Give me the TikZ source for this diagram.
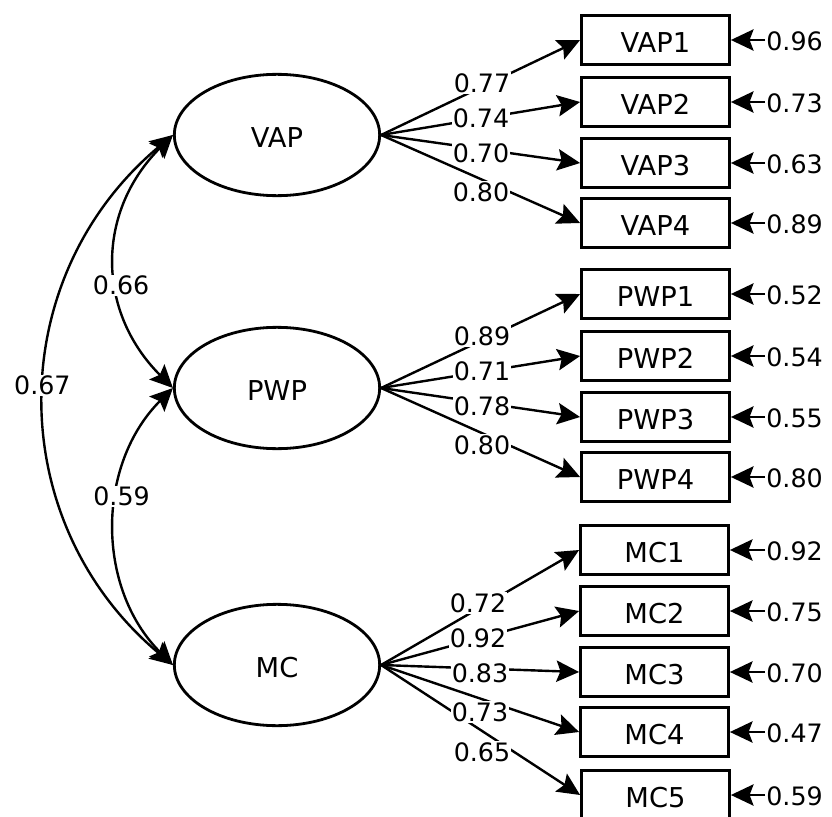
\documentclass[tikz,border=0pt]{standalone}
\usepackage{fontspec}
\setmainfont{DejaVu Sans}
\usetikzlibrary{shapes.geometric,arrows.meta}

\tikzset{
  semhead/.tip={Stealth[length=17pt,width=16pt,inset=3pt]},
}

\begin{document}
\begin{tikzpicture}[x=0.75pt,y=-0.75pt,
  every node/.style={font=\fontsize{19}{23}\selectfont},
  namefont/.style={font=\fontsize{20.5}{24}\selectfont, text height=19pt, text depth=0pt},
  latent/.style={draw, ellipse, namefont, line width=2.1pt, minimum width=154pt, minimum height=91pt, inner sep=0pt},
  obs/.style={draw, rectangle, namefont, line width=2.1pt, minimum width=111pt, minimum height=37pt, inner sep=0pt},
  wt/.style={fill=white, inner sep=0.8pt},
  err/.style={anchor=west, inner sep=0.8pt, text height=16pt, text depth=0pt},
  load/.style={line width=1.8pt, -semhead},
  cov/.style={line width=1.8pt, semhead-semhead},
]
\useasboundingbox (0,0) rectangle (832,817);
\clip (0,0) rectangle (832,817);

% latent factors
\node[latent] (vap) at (277,135) {VAP};
\node[latent] (pwp) at (277,388) {PWP};
\node[latent] (mc)  at (277,665) {MC};

% indicators
\node[obs] (vap1) at (655.5,40)  {VAP1};
\node[obs] (vap2) at (655.5,102) {VAP2};
\node[obs] (vap3) at (655.5,163) {VAP3};
\node[obs] (vap4) at (655.5,223) {VAP4};
\node[obs] (pwp1) at (655.5,294) {PWP1};
\node[obs] (pwp2) at (655.5,356) {PWP2};
\node[obs] (pwp3) at (655.5,417) {PWP3};
\node[obs] (pwp4) at (655.5,477) {PWP4};
\node[obs] (mc1)  at (654.5,550) {MC1};
\node[obs] (mc2)  at (654.5,611) {MC2};
\node[obs] (mc3)  at (654.5,672) {MC3};
\node[obs] (mc4)  at (654.5,732) {MC4};
\node[obs] (mc5)  at (655.5,795) {MC5};

% factor loadings
\foreach \f/\i in {vap/vap1,vap/vap2,vap/vap3,vap/vap4,
                   pwp/pwp1,pwp/pwp2,pwp/pwp3,pwp/pwp4,
                   mc/mc1,mc/mc2,mc/mc3,mc/mc4,mc/mc5}
  \draw[load] (\f.east) -- (\i.west);

% loading values
\node[wt] (lv1) at (482,83)  {0.77};
\node[wt] (lv2) at (481,118) {0.74};
\node[wt] (lv3) at (481,153) {0.70};
\node[wt] (lv4) at (481,192) {0.80};
\node[wt] (lp1) at (482,336) {0.89};
\node[wt] (lp2) at (482,371) {0.71};
\node[wt] (lp3) at (482,406) {0.78};
\node[wt] (lp4) at (482,445) {0.80};
\node[wt] (lm1) at (478,603) {0.72};
\node[wt] (lm2) at (478,638) {0.92};
\node[wt] (lm3) at (480,673) {0.83};
\node[wt] (lm4) at (480,712) {0.73};
\node[wt] (lm5) at (482,752) {0.65};

% error variances
\foreach \i/\v in {vap1/0.96,vap2/0.73,vap3/0.63,vap4/0.89,
                   pwp1/0.52,pwp2/0.54,pwp3/0.55,pwp4/0.80,
                   mc1/0.92,mc2/0.75,mc3/0.70,mc4/0.47,mc5/0.59}{
  \node[err] (e\i) at (765,0 |- \i.center) {\v};
  \draw[load] (e\i.west) -- (\i.east);
}

% factor correlations
\draw[cov] (vap.west) .. controls (96,212) and (96,311) .. (pwp.west)
  node[wt, pos=0.59, xshift=3pt] (r1) {0.66};
\draw[cov] (pwp.west) .. controls (96,465) and (96,588) .. (mc.west)
  node[wt, pos=0.4, xshift=3pt] (r2) {0.59};
\draw[cov] (vap.west) .. controls (2,278) and (2,522) .. (mc.west)
  node[wt, pos=0.475, xshift=-2pt] (r3) {0.67};
\end{tikzpicture}
\end{document}
